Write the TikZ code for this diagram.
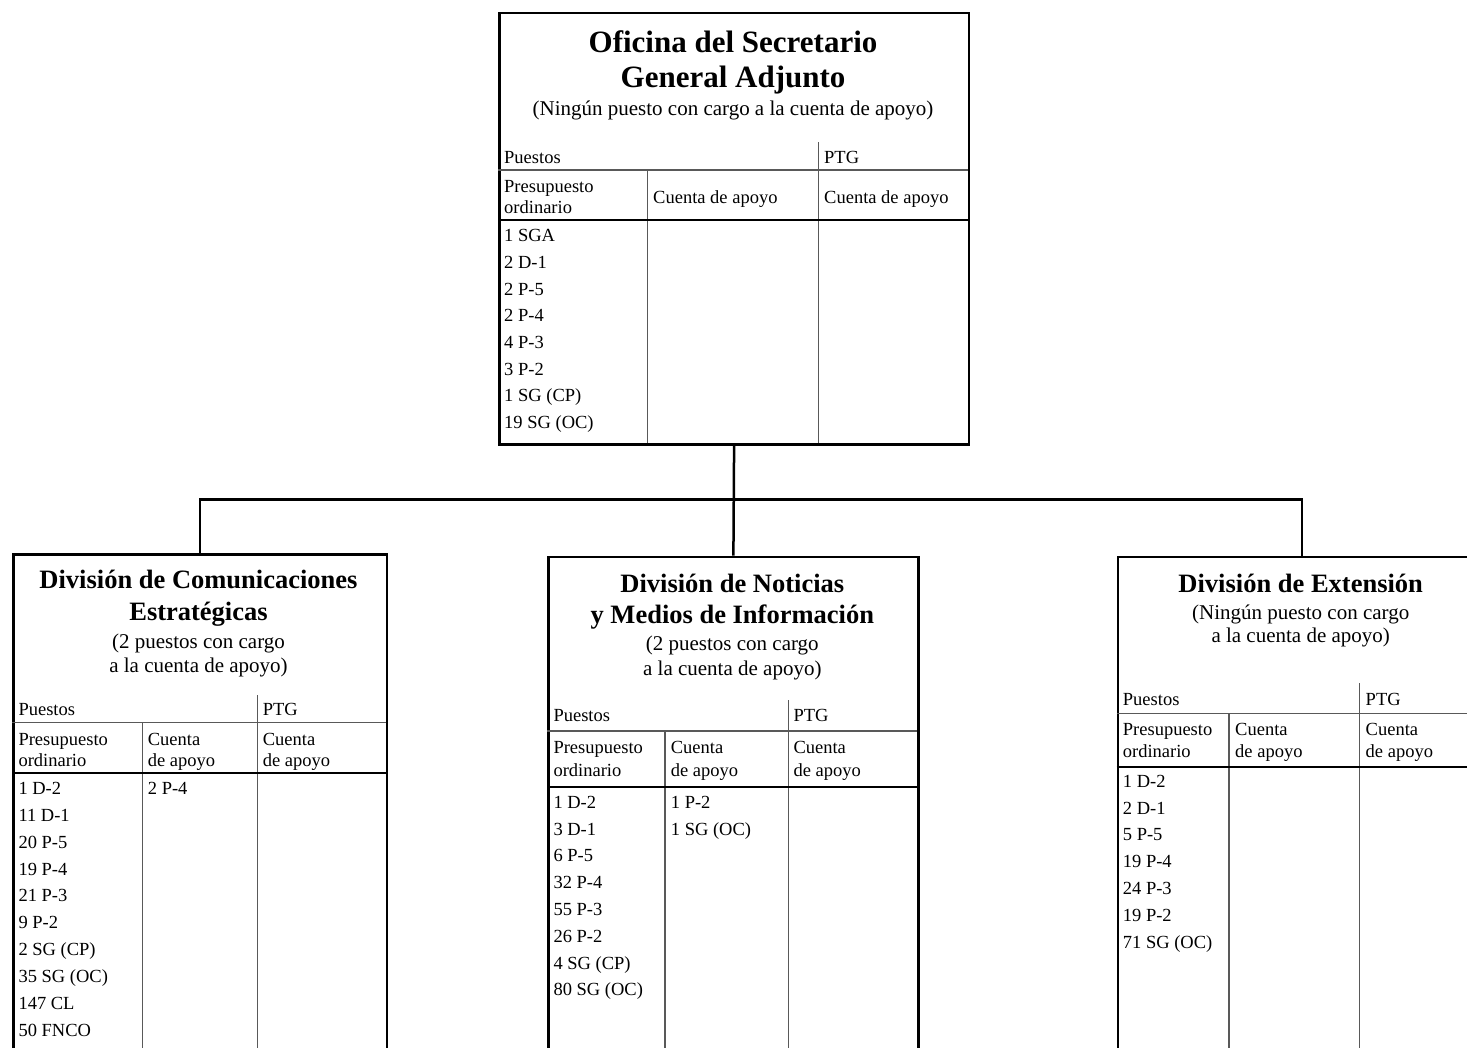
\documentclass[tikz,border=0pt]{standalone}
\usepackage{fontspec}
\setmainfont{Liberation Serif}
\begin{document}
\begin{tikzpicture}[x=1pt,y=-1pt,
  box/.style={draw, line width=2.2pt, rectangle, inner sep=0pt, anchor=north west},
  ttltop/.style={font=\fontsize{31}{36}\selectfont\bfseries, anchor=base, inner sep=0pt},
  ttl/.style={font=\fontsize{26.5}{30}\selectfont\bfseries, anchor=base, inner sep=0pt},
  sub/.style={font=\fontsize{21}{24}\selectfont, anchor=base, inner sep=0pt},
  cell/.style={font=\fontsize{18.5}{21}\selectfont, anchor=base west, inner sep=0pt},
  grid/.style={line width=1.3pt, draw=black!65},
  rule/.style={line width=2.2pt, draw=black},
  conn/.style={line width=2.5pt, draw=black}]
\clip (0,0) rectangle (1467,1047);

% ---------- boxes ----------
\node[box, minimum width=469.4pt, minimum height=431.8pt] (top) at (498.3,11.5) {};
\node[box, minimum width=373.4pt, minimum height=560pt] (left) at (12.3,553.3) {};
\node[box, minimum width=370pt, minimum height=560pt] (mid) at (547.3,555.7) {};
\node[box, minimum width=368pt, minimum height=560pt] (right) at (1116.7,555.7) {};

% ---------- connectors ----------
\coordinate (bus) at (733,499.3);
\draw[conn] (top.south) -- (mid.north);
\draw[conn] (left.north) -- (left.north |- bus) -- (right.north |- bus) -- (right.north);

% ---------- top box ----------
\draw[grid] (818.3,142) -- (818.3,443.3);
\draw[grid] (498.3,170) -- (967.7,170);
\draw[grid] (647.7,170) -- (647.7,443.3);
\draw[rule] (498.3,220) -- (967.7,220);
\node[ttltop] (tt1) at (733,52) {Oficina del Secretario};
\node[ttltop] (tt2) at (733,87.5) {General Adjunto};
\node[sub] (ts) at (733,115) {(Ningún puesto con cargo a la cuenta de apoyo)};
\node[cell] (tp) at (504,163.5) {Puestos};
\node[cell] (tg) at (824,163.5) {PTG};
\node[cell] (tpr1) at (504,192.5) {Presupuesto};
\node[cell] (tpr2) at (504,213) {ordinario};
\node[cell] (tca) at (653,203) {Cuenta de apoyo};
\node[cell] (tcg) at (824,203) {Cuenta de apoyo};
\foreach \t [count=\i from 0] in {{1 SGA},{2 D-1},{2 P-5},{2 P-4},{4 P-3},{3 P-2},{1 SG (CP)},{19 SG (OC)}}
  \node[cell] (tr\i) at ({504},{241.7+\i*26.66}) {\t};

% ---------- left box ----------
\draw[grid] (257.7,695) -- (257.7,1100);
\draw[grid] (12.3,722.7) -- (385.7,722.7);
\draw[grid] (142.7,722.7) -- (142.7,1100);
\draw[rule] (12.3,773.3) -- (385.7,773.3);
\node[ttl] (lt1) at (198.5,588.3) {División de Comunicaciones};
\node[ttl] (lt2) at (198.5,620.7) {Estratégicas};
\node[sub] (ls1) at (198.5,648) {(2 puestos con cargo};
\node[sub] (ls2) at (198.5,672) {a la cuenta de apoyo)};
\node[cell] (lp) at (18.3,715.7) {Puestos};
\node[cell] (lg) at (262.7,715.7) {PTG};
\node[cell] (lpr1) at (18.3,745) {Presupuesto};
\node[cell] (lpr2) at (18.3,766.7) {ordinario};
\node[cell] (lca1) at (147.7,745) {Cuenta};
\node[cell] (lca2) at (147.7,766.7) {de apoyo};
\node[cell] (lcg1) at (262.7,745) {Cuenta};
\node[cell] (lcg2) at (262.7,766.7) {de apoyo};
\foreach \t [count=\i from 0] in {{1 D-2},{11 D-1},{20 P-5},{19 P-4},{21 P-3},{9 P-2},{2 SG (CP)},{35 SG (OC)},{147 CL},{50 FNCO}}
  \node[cell] (lr\i) at ({18.3},{794.5+\i*26.85}) {\t};
\node[cell] (lc0) at (147.7,794.5) {2 P-4};

% ---------- middle box ----------
\draw[grid] (788.3,700) -- (788.3,1100);
\draw[grid] (547.3,731) -- (917.3,731);
\draw[grid] (665,731) -- (665,1100);
\draw[rule] (547.3,786.7) -- (917.3,786.7);
\node[ttl] (mt1) at (732.3,592.5) {División de Noticias};
\node[ttl] (mt2) at (732.3,623.5) {y Medios de Información};
\node[sub] (ms1) at (732.3,650.5) {(2 puestos con cargo};
\node[sub] (ms2) at (732.3,675) {a la cuenta de apoyo)};
\node[cell] (mp) at (553.3,721.7) {Puestos};
\node[cell] (mg) at (793.3,721.7) {PTG};
\node[cell] (mpr1) at (553.3,753.5) {Presupuesto};
\node[cell] (mpr2) at (553.3,776) {ordinario};
\node[cell] (mca1) at (670.7,753.5) {Cuenta};
\node[cell] (mca2) at (670.7,776) {de apoyo};
\node[cell] (mcg1) at (793.3,753.5) {Cuenta};
\node[cell] (mcg2) at (793.3,776) {de apoyo};
\foreach \t [count=\i from 0] in {{1 D-2},{3 D-1},{6 P-5},{32 P-4},{55 P-3},{26 P-2},{4 SG (CP)},{80 SG (OC)}}
  \node[cell] (mr\i) at ({553.3},{808.3+\i*26.8}) {\t};
\node[cell] (mc0) at (670.7,808.3) {1 P-2};
\node[cell] (mc1) at (670.7,835.1) {1 SG (OC)};

% ---------- right box ----------
\draw[grid] (1359.3,683) -- (1359.3,1100);
\draw[grid] (1116.7,713.3) -- (1484.7,713.3);
\draw[grid] (1229,713.3) -- (1229,1100);
\draw[rule] (1116.7,766.7) -- (1484.7,766.7);
\node[ttl] (rt1) at (1300.7,592) {División de Extensión};
\node[sub] (rs1) at (1300.7,619) {(Ningún puesto con cargo};
\node[sub] (rs2) at (1300.7,642) {a la cuenta de apoyo)};
\node[cell] (rp) at (1122.7,705.7) {Puestos};
\node[cell] (rg) at (1365.5,705.7) {PTG};
\node[cell] (rpr1) at (1122.7,735.5) {Presupuesto};
\node[cell] (rpr2) at (1122.7,757.3) {ordinario};
\node[cell] (rca1) at (1235,735.5) {Cuenta};
\node[cell] (rca2) at (1235,757.3) {de apoyo};
\node[cell] (rcg1) at (1365.5,735.5) {Cuenta};
\node[cell] (rcg2) at (1365.5,757.3) {de apoyo};
\foreach \t [count=\i from 0] in {{1 D-2},{2 D-1},{5 P-5},{19 P-4},{24 P-3},{19 P-2},{71 SG (OC)}}
  \node[cell] (rr\i) at ({1122.7},{787.3+\i*26.83}) {\t};
\end{tikzpicture}
\end{document}
